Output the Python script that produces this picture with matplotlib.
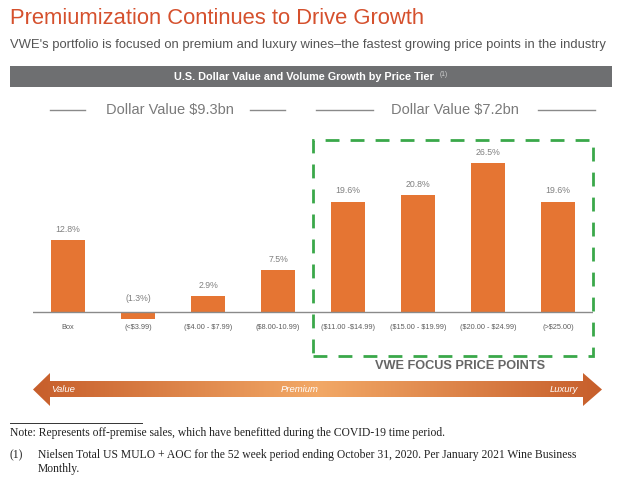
import numpy as np
import matplotlib.pyplot as plt
from matplotlib.patches import Rectangle, Polygon
from matplotlib.lines import Line2D

# data
tiers = ['Box', '(<\\$3.99)', '(\\$4.00 - \\$7.99)', '(\\$8.00-10.99)',
         '(\\$11.00 -\\$14.99)', '(\\$15.00 - \\$19.99)', '(\\$20.00 - \\$24.99)', '(>\\$25.00)']
growth = [12.8, -1.3, 2.9, 7.5, 19.6, 20.8, 26.5, 19.6]
labels = ['12.8%', '(1.3%)', '2.9%', '7.5%', '19.6%', '20.8%', '26.5%', '19.6%']

W, H = 622, 482
ORANGE = '#e57533'
TITLE_RED = '#d5502d'


def fx(x):
    return x / W


def fy(y):
    return 1 - y / H


fig = plt.figure(figsize=(6.22, 4.82), dpi=100)

# title block
fig.text(fx(10), fy(18), 'Premiumization Continues to Drive Growth', color=TITLE_RED,
         fontsize=15.8, va='center', ha='left', family='Liberation Sans')
fig.text(fx(10), fy(45), "VWE's portfolio is focused on premium and luxury wines\u2013the fastest growing price points in the industry",
         color='#555555', fontsize=9.4, va='center', ha='left', family='Liberation Sans')
fig.patches.append(Rectangle((fx(10), fy(87)), fx(602), 21 / H, transform=fig.transFigure,
                             facecolor='#6e6f71', edgecolor='none'))
fig.text(fx(304), fy(76.5), 'U.S. Dollar Value and Volume Growth by Price Tier', color='white',
         fontsize=7.8, weight='bold', va='center', ha='center', family='Liberation Sans')
fig.text(fx(440), fy(75), '(1)', color='#d0d0d0', fontsize=4.8, va='center', ha='left',
         family='Liberation Sans')

# group headers
for cx, txt, segs in [(170, 'Dollar Value \\$9.3bn', [(50, 85), (250, 285)]),
                      (455, 'Dollar Value \\$7.2bn', [(316, 373), (538, 595)])]:
    fig.text(fx(cx), fy(110), txt, color='#7a7a7a', fontsize=10.5, ha='center', va='center',
             family='Liberation Sans')
    for x0, x1 in segs:
        fig.lines.append(Line2D([fx(x0), fx(x1)], [fy(110), fy(110)], transform=fig.transFigure,
                                color='#8a8a8a', lw=1))

# bars
ax = fig.add_axes([fx(33), fy(329), 560 / W, (329 - 143) / H])
x = np.arange(len(tiers))
ax.bar(x, growth, width=0.49, color=ORANGE)
ax.set_xlim(-0.5, 7.5)
ax.set_ylim(-3, 30)
ax.axhline(0, color='#8a8a8a', lw=1)
for xi, g, lab in zip(x, growth, labels):
    yl = g + 1.1 if g > 0 else 1.6
    ax.text(xi, yl, lab, ha='center', va='bottom', fontsize=6.3, color='#808080',
            family='Liberation Sans')
ax.axis('off')
for xi, t in zip(x, tiers):
    ax.text(xi, -2.7, t, ha='center', va='center', fontsize=5.3, color='#5e5e5e',
            family='Liberation Sans')

# focus box
fig.patches.append(Rectangle((fx(313), fy(356)), (593 - 313) / W, (356 - 140) / H,
                             transform=fig.transFigure, facecolor='none', edgecolor='#3aa84a',
                             lw=2, linestyle=(0, (5, 4))))
fig.text(fx(460), fy(366), 'VWE FOCUS PRICE POINTS', color='#666666', fontsize=9.2, weight='bold',
         ha='center', va='center', family='Liberation Sans')

# gradient arrow
axa = fig.add_axes([0, 0, 1, 1])
axa.set_xlim(0, W)
axa.set_ylim(H, 0)
axa.axis('off')
t = np.linspace(0, 1, 300)
shade = 1 - np.abs(t - 0.5) * 2
c0 = np.array([0.78, 0.37, 0.17])
c1 = np.array([0.95, 0.66, 0.40])
grad = (c0[None, :] + (c1 - c0)[None, :] * shade[:, None])[None, :, :]
im = axa.imshow(grad, extent=[33, 602, 406, 373], aspect='auto')
arrow = Polygon([(33, 389.5), (50, 373), (50, 381), (583, 381), (583, 373), (602, 389.5),
                 (583, 406), (583, 397), (50, 397), (50, 406)], closed=True,
                transform=axa.transData, facecolor='none', edgecolor='none')
axa.add_patch(arrow)
im.set_clip_path(arrow)
for xx, txt, ha in [(51, 'Value', 'left'), (300, 'Premium', 'center'), (578, 'Luxury', 'right')]:
    axa.text(xx, 390, txt, color='white', fontsize=6.8, style='italic', ha=ha, va='center',
             family='Liberation Sans')

# footnotes
fig.lines.append(Line2D([fx(10), fx(142)], [fy(423), fy(423)], transform=fig.transFigure,
                        color='#333333', lw=0.7))
ft = dict(fontsize=8.4, family='Liberation Serif', va='center', color='#222222')
fig.text(fx(10), fy(433), 'Note: Represents off-premise sales, which have benefitted during the COVID-19 time period.', **ft)
fig.text(fx(10), fy(455), '(1)', **ft)
fig.text(fx(38), fy(455), 'Nielsen Total US MULO + AOC for the 52 week period ending October 31, 2020. Per January 2021 Wine Business', **ft)
fig.text(fx(38), fy(469), 'Monthly.', **ft)

fig.savefig('out.png', dpi=100)
